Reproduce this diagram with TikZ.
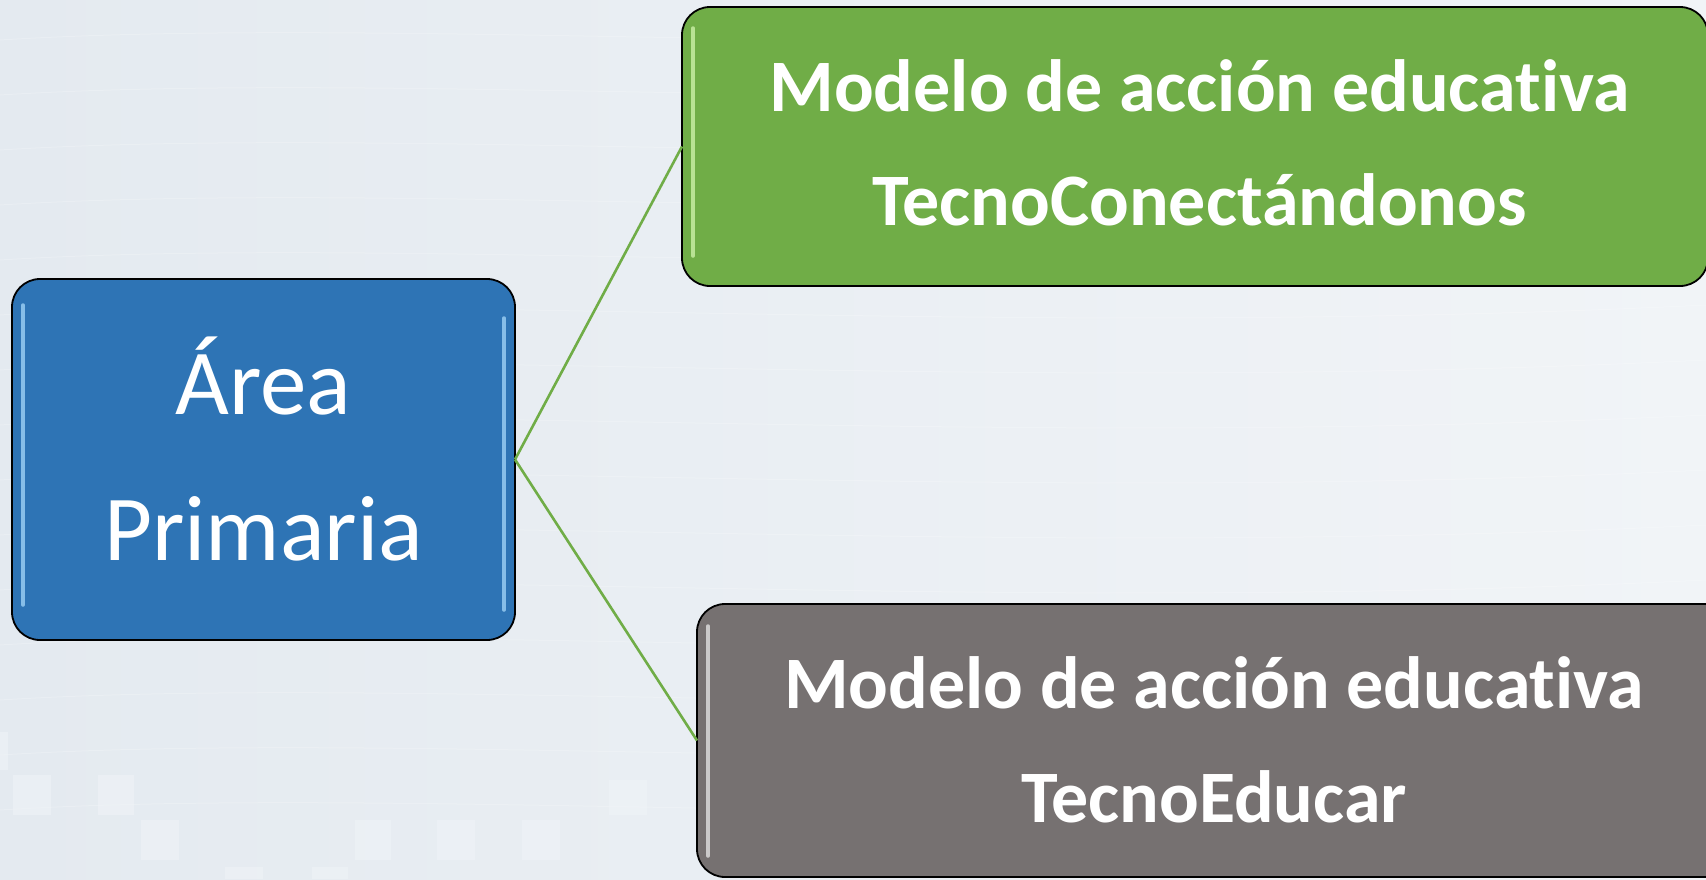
\documentclass[tikz,border=0pt]{standalone}
\usepackage{fontspec}
\setmainfont{Carlito}[RawFeature={-liga}]
\definecolor{bgA}{HTML}{E4EAF0}
\definecolor{bgB}{HTML}{F1F4F7}
\definecolor{sq}{HTML}{F0F4F8}
\definecolor{boxblue}{HTML}{2E74B5}
\definecolor{boxgreen}{HTML}{70AD47}
\definecolor{boxgray}{HTML}{767171}
\definecolor{hlblue}{HTML}{A6D8FA}
\definecolor{hlgreen}{HTML}{D2F5AE}
\definecolor{hlgray}{HTML}{E8E8E8}
\definecolor{linkgreen}{HTML}{70AD47}
\tikzset{
  box/.style={draw=black, line width=1.8pt, rounded corners=28pt, inner sep=0pt, outer sep=0pt},
  bigtxt/.style={text=white, anchor=base, inner sep=0pt, font=\fontsize{93}{100}\selectfont},
  boldtxt/.style={text=white, anchor=base, inner sep=0pt, font=\fontsize{74}{80}\selectfont\bfseries},
  link/.style={draw=linkgreen, line width=2.6pt},
  hl/.style={line width=3.5pt, line cap=round, opacity=0.75},
  tile/.style={fill=sq, draw=none, opacity=0.55},
  wave/.style={draw=white, line width=1pt, opacity=0.2}
}
\begin{document}
\begin{tikzpicture}[x=1pt, y=-1pt]
\useasboundingbox (0,0) rectangle (1706,879);
% background
\shade[left color=bgA, right color=bgB] (0,0) rectangle (1706,879);
% faint texture
\foreach \yy in {40,95,150,205,260,315,370,425,480,535,590,645,700,755,810}{
  \draw[wave] (0,\yy) .. controls (400,\yy-25) and (1000,\yy+25) .. (1706,\yy-10);
}
% faint tiles bottom-left
\fill[tile] (0,732) rectangle (8,770);
\fill[tile] (13,775) rectangle (51,815);
\fill[tile] (98,775) rectangle (134,815);
\fill[tile] (141,820) rectangle (179,860);
\fill[tile] (355,820) rectangle (391,860);
\fill[tile] (437,820) rectangle (475,860);
\fill[tile] (522,820) rectangle (560,860);
\fill[tile] (609,780) rectangle (647,815);
\fill[tile] (225,867) rectangle (263,879);
\fill[tile] (312,867) rectangle (348,879);

% boxes
\node[box, fill=boxblue, minimum width=503pt, minimum height=361pt] (area) at (263.5,459.5) {};
\node[box, fill=boxgreen, minimum width=1026pt, minimum height=279pt] (tecnocon) at (1195,146.5) {};
\node[box, fill=boxgray, minimum width=1035pt, minimum height=273pt] (tecnoedu) at (1214.5,740.5) {};

% glossy highlights
\draw[hl, draw=hlblue] (23,305) -- (23,605);
\draw[hl, draw=hlblue] (504,318) -- (504,610);
\draw[hl, draw=hlgreen] (693,28) -- (693,256);
\draw[hl, draw=hlgray] (708,626) -- (708,856);

% connectors
\draw[link] (area.east) -- (tecnocon.west);
\draw[link] (area.east) -- (tecnoedu.west);

% texts
\node[bigtxt] (t1) at (263.5,414) {Área};
\node[bigtxt] (t2) at (263.5,560) {Primaria};
\node[boldtxt] (t3) at (1199.5,111) {Modelo de acción educativa};
\node[boldtxt] (t4) at (1199.5,225) {TecnoConectándonos};
\node[boldtxt] (t5) at (1214,708) {Modelo de acción educativa};
\node[boldtxt] (t6) at (1214,822) {TecnoEducar};
\end{tikzpicture}
\end{document}
